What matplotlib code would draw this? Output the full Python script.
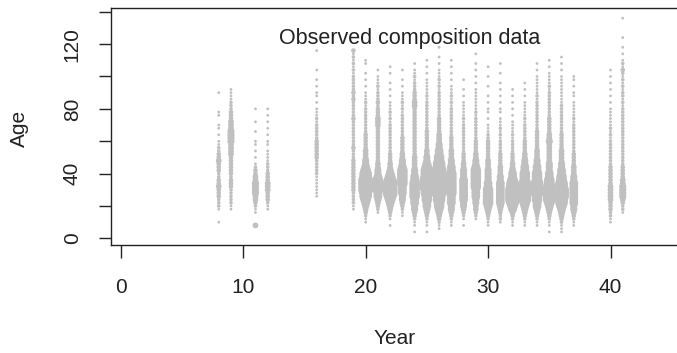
import matplotlib
matplotlib.use('Agg')
import matplotlib.pyplot as plt

plt.rcParams['font.family'] = ['Liberation Sans', 'DejaVu Sans']

# years that have composition samples
years = [8, 9, 11, 12, 16, 19, 20, 21, 22, 23, 24, 25, 26, 27, 28,
         29, 30, 31, 32, 33, 34, 35, 36, 37, 40, 41]

# bubble size level (0 = no sample) at ages 0, 2, 4, ... (10 ages per group)
profiles = [
    "00000 10001 22233 34332 23334 33221 10101 10011 00000 1",            # 8
    "00000 00001 12222 23332 33333 34444 55554 44333 22211 11000",        # 9
    "00004 00011 23445 55544 33210 10101 10010 01000 1",                  # 11
    "00000 00001 12333 44433 32221 11101 10101 01010 1",                  # 12
    "00000 00000 00011 11111 22222 33333 32222 21211 10101 10101 00100 0001",  # 16
    "00000 00001 12222 33333 33333 22232 22222 22322 22232 32222 21212 1213",  # 19
    "00000 11234 56788 99998 87655 44433 33322 22222 21211 10101 01001 1",     # 20
    "00000 00012 34566 77776 55443 33333 33333 44433 32322 21211 101",         # 21
    "00001 01234 56789 99987 65443 33222 22222 21212 11101 01010 0101",        # 22
    "00000 00112 34556 66777 77655 44333 33222 22221 21211 10101 001",         # 23
    "00101 12345 56677 77766 55444 43333 33333 33333 34433 32221 21101",       # 24
    "00101 12345 66778 89998 88765 54433 33332 22222 22212 11111 01010 1",     # 25
    "00011 23456 77889 99999 99887 76655 44433 33322 22222 21212 11101 01001", # 26
    "00001 12345 56667 77777 76655 44433 33222 22222 21212 11101 01010 1",     # 27
    "00001 01234 55666 66665 55443 33222 22222 21211 11101 01001",             # 28
    "00000 01234 45566 67777 77655 44333 32222 22212 11111 11010 10101 001",   # 29
    "00001 12345 67777 76655 55444 33333 32211 10101 10101 00100 1001",        # 30
    "00000 12234 56666 66655 44433 33222 21212 11101 10101 01010 01001",       # 31
    "00001 12346 78999 98876 65443 33222 21211 11010 10101 01",                # 32
    "00001 12345 67888 88877 76655 44333 32222 21211 11101 0101",              # 33
    "00001 12345 66778 88877 76655 44433 33332 22222 22212 11111 10101",       # 34
    "00101 12345 67888 88776 65554 44444 54433 33322 22222 21211 11010 1",     # 35
    "00111 23456 78899 98877 66554 44433 33322 22222 22111 11111 10101 01",    # 36
    "00001 12345 56666 66655 44433 33222 22222 21211 11101 10101 1",           # 37
    "00000 11223 33444 44333 33322 22222 21212 11111 10101 01010 101",         # 40
    "00000 00012 23455 55443 33322 22222 22222 22222 21212 21212 12312 10101 00100 0001",  # 41
]

age_step = 2
yticks = [0, 20, 40, 60, 80, 100, 120, 140]
ytick_labels = ['0', '', '40', '', '80', '', '120', '']
xticks = [0, 10, 20, 30, 40]

xs, ys, ss = [], [], []
for yr, prof in zip(years, profiles):
    digits = prof.replace(' ', '')
    for i, ch in enumerate(digits):
        lvl = int(ch)
        if lvl == 0:
            continue
        d_px = 2.2 + 0.5 * lvl + 0.1 * lvl ** 2
        xs.append(yr)
        ys.append(i * age_step)
        ss.append((d_px * 0.72) ** 2)

fig = plt.figure(figsize=(6.77, 3.53), dpi=100)
ax = fig.add_axes([111 / 677, (353 - 245) / 353, (706 - 111) / 677, (245 - 8) / 353])

ax.scatter(xs, ys, s=ss, c='#c0c0c0', linewidths=0, zorder=2)

ax.set_xlim(-0.8, 47.8)
ax.set_ylim(-4.1, 142.3)
ax.set_xticks(xticks)
ax.set_yticks(yticks)
ax.set_yticklabels(ytick_labels, rotation=90, va='center')

for sp in ax.spines.values():
    sp.set_linewidth(1.0)
    sp.set_color('#222222')

ax.tick_params(direction='out', length=9, width=1.0, color='#222222',
               labelsize=15, labelcolor='#222222')
ax.tick_params(axis='x', pad=15)
ax.tick_params(axis='y', pad=12)

ax.text(23.6, 123.7, 'Observed composition data', ha='center', va='center',
        fontsize=15.5, color='#222222')

ax.set_xlabel('Year', fontsize=15, color='#222222', va='center')
ax.xaxis.set_label_coords((395 - 111) / 595, -(339 - 245) / 237)
ax.set_ylabel('Age', fontsize=15, color='#222222', va='center')
ax.yaxis.set_label_coords((19.5 - 111) / 595, (245 - 128) / 237)

fig.savefig('out.png', dpi=100)
